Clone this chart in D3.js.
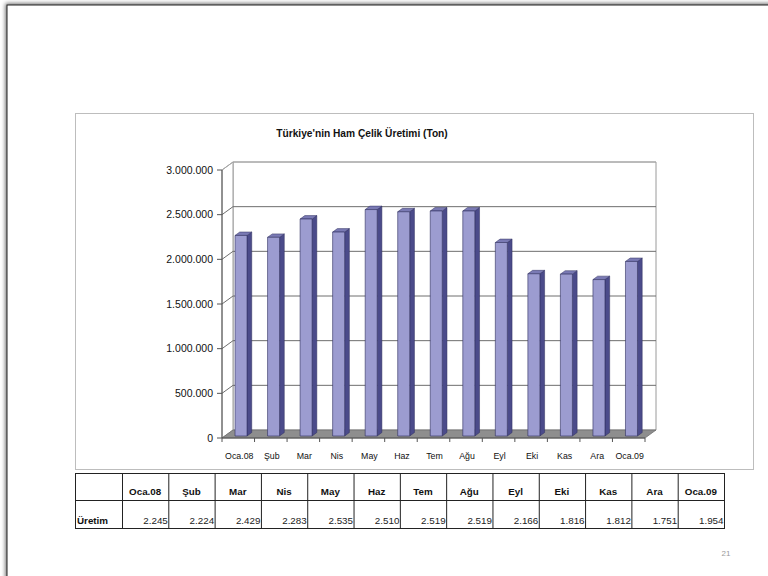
<!DOCTYPE html>
<html>
<head>
<meta charset="utf-8">
<script src="https://cdn.jsdelivr.net/npm/d3@7"></script>
<style>
  html, body { margin: 0; padding: 0; background: #ffffff; }
  svg { display: block; font-family: "Liberation Sans", Arial, sans-serif; }
</style>
</head>
<body>
<svg id="chart" width="768" height="576"></svg>
<script>
// ---- data ----
const chartTitle = "Türkiye'nin Ham Çelik Üretimi (Ton)";
const categories = ["Oca.08", "Şub", "Mar", "Nis", "May", "Haz", "Tem", "Ağu", "Eyl", "Eki", "Kas", "Ara", "Oca.09"];
const production = [2245, 2224, 2429, 2283, 2535, 2510, 2519, 2519, 2166, 1816, 1812, 1751, 1954]; // thousand tons
const yTicks = [0, 500000, 1000000, 1500000, 2000000, 2500000, 3000000];
const rowLabel = "Üretim";
const pageNumber = "21";

// ---- setup ----
const svg = d3.select("#chart");
const tr = d3.formatLocale({ decimal: ",", thousands: ".", grouping: [3], currency: ["", " TL"] });
const fmt = tr.format(",d");

const defs = svg.append("defs");
const f = defs.append("filter").attr("id", "sh").attr("x", "-5%").attr("y", "-5%").attr("width", "110%").attr("height", "110%");
f.append("feGaussianBlur").attr("in", "SourceAlpha").attr("stdDeviation", 2).attr("result", "b");
f.append("feOffset").attr("in", "b").attr("dx", -1).attr("dy", -1).attr("result", "o");
f.append("feComponentTransfer").attr("in", "o").attr("result", "o2")
  .append("feFuncA").attr("type", "linear").attr("slope", 0.6);
const fm = f.append("feMerge");
fm.append("feMergeNode").attr("in", "o2");
fm.append("feMergeNode").attr("in", "SourceGraphic");

// slide
svg.append("rect").attr("x", 7).attr("y", 5).attr("width", 800).attr("height", 620)
  .attr("fill", "#fff").attr("stroke", "#222").attr("stroke-width", 1).attr("filter", "url(#sh)");

// chart box
svg.append("rect").attr("x", 75.5).attr("y", 113.5).attr("width", 678).attr("height", 356)
  .attr("fill", "#fff").attr("stroke", "#bdbdbd").attr("stroke-width", 1);

// title
svg.append("text").attr("x", 362).attr("y", 137).attr("text-anchor", "middle")
  .attr("font-size", 10.2).attr("font-weight", "bold").attr("fill", "#111").text(chartTitle);

// ---- 3D plot geometry ----
const x = d3.scaleBand().domain(categories).range([222, 645]).padding(0);
const y = d3.scaleLinear().domain([0, 3000000]).range([438, 170]);
const DX = 11, DY = 8;
const P = (px, v, z) => [px + z * DX, y(v) - z * DY];
const poly = pts => "M" + pts.map(p => p.join(",")).join("L") + "Z";

const g = svg.append("g");

// back wall
g.append("path").attr("d", poly([P(222, 0, 1), P(645, 0, 1), P(645, 3000000, 1), P(222, 3000000, 1)]))
  .attr("fill", "#fff").attr("stroke", "#9a9a9a").attr("stroke-width", 1);
// left wall
g.append("path").attr("d", poly([P(222, 0, 0), P(222, 0, 1), P(222, 3000000, 1), P(222, 3000000, 0)]))
  .attr("fill", "#fff").attr("stroke", "#9a9a9a").attr("stroke-width", 1);

// gridlines
yTicks.filter(t => t > 0).forEach(t => {
  const a = P(222, t, 0), b = P(222, t, 1), c = P(645, t, 1);
  g.append("path").attr("d", `M${a}L${b}L${c}`).attr("fill", "none")
    .attr("stroke", t === 3000000 ? "#a8a8a8" : "#6e6e6e").attr("stroke-width", 1);
});

// floor
g.append("path").attr("d", poly([P(222, 0, 0), P(645, 0, 0), P(645, 0, 1), P(222, 0, 1)]))
  .attr("fill", "#8e8e8e").attr("stroke", "#707070").attr("stroke-width", 0.8);

// bars
const BW = 12, Z0 = 0.25, Z1 = 0.68;
const bars = g.selectAll("g.bar").data(categories.map((c, i) => ({ c, v: production[i] * 1000 })))
  .enter().append("g").attr("class", "bar");
bars.each(function (d) {
  const cx = x(d.c) + x.bandwidth() / 2;
  const l = cx - BW / 2, r = cx + BW / 2;
  const s = d3.select(this);
  // side (right) face
  s.append("path").attr("d", poly([P(r, 0, Z0), P(r, 0, Z1), P(r, d.v, Z1), P(r, d.v, Z0)]))
    .attr("fill", "#4b4b8a").attr("stroke", "#2e2e5e").attr("stroke-width", 0.5);
  // top face
  s.append("path").attr("d", poly([P(l, d.v, Z0), P(r, d.v, Z0), P(r, d.v, Z1), P(l, d.v, Z1)]))
    .attr("fill", "#7a7ab4").attr("stroke", "#2e2e5e").attr("stroke-width", 0.5);
  // front face
  s.append("path").attr("d", poly([P(l, 0, Z0), P(r, 0, Z0), P(r, d.v, Z0), P(l, d.v, Z0)]))
    .attr("fill", "#9c9cd0").attr("stroke", "#2e2e5e").attr("stroke-width", 0.6);
});

// front floor edge / x axis
g.append("line").attr("x1", 222).attr("x2", 645).attr("y1", y(0)).attr("y2", y(0))
  .attr("stroke", "#555").attr("stroke-width", 1);
// x ticks
const xb = categories.map(c => x(c)).concat([645]);
g.selectAll("line.xt").data(xb).enter().append("line")
  .attr("x1", d => d).attr("x2", d => d).attr("y1", y(0)).attr("y2", y(0) + 4)
  .attr("stroke", "#555");
// x labels
g.selectAll("text.xl").data(categories).enter().append("text")
  .attr("x", d => x(d) + x.bandwidth() / 2 + 1).attr("y", 459)
  .attr("text-anchor", "middle").attr("font-size", 8.8).attr("fill", "#111").text(d => d);

// y axis (front)
g.append("line").attr("x1", 222).attr("x2", 222).attr("y1", y(0)).attr("y2", y(3000000))
  .attr("stroke", "#555").attr("stroke-width", 1);
g.selectAll("line.yt").data(yTicks).enter().append("line")
  .attr("x1", 217).attr("x2", 222).attr("y1", d => y(d)).attr("y2", d => y(d))
  .attr("stroke", "#555");
g.selectAll("text.yl").data(yTicks).enter().append("text")
  .attr("x", 213).attr("y", d => y(d) + 3.8).attr("text-anchor", "end")
  .attr("font-size", 10.5).attr("fill", "#111").text(d => fmt(d));

// ---- data table ----
const tx0 = 75, tc0 = 122, tcw = (724 - 122) / 13;
const ty0 = 473, ty1 = 500, ty2 = 528;
const cx = d3.scaleBand().domain(categories).range([tc0, 724]);
const t = svg.append("g").attr("stroke", "#222").attr("stroke-width", 1);
[ty0, ty1, ty2].forEach(yy => t.append("line").attr("x1", tx0).attr("x2", 724).attr("y1", yy + 0.5).attr("y2", yy + 0.5));
[tx0].concat(categories.map(c => cx(c))).concat([724]).forEach(xx =>
  t.append("line").attr("x1", xx + 0.5).attr("x2", xx + 0.5).attr("y1", ty0).attr("y2", ty2 + 1));

svg.selectAll("text.th").data(categories).enter().append("text")
  .attr("x", d => cx(d) + cx.bandwidth() / 2).attr("y", 495)
  .attr("text-anchor", "middle").attr("font-size", 9.8).attr("font-weight", "bold").attr("fill", "#111").text(d => d);
svg.append("text").attr("x", 77).attr("y", 524).attr("font-size", 9.8).attr("font-weight", "bold")
  .attr("fill", "#111").text(rowLabel);
svg.selectAll("text.tv").data(categories.map((c, i) => ({ c, v: production[i] }))).enter().append("text")
  .attr("x", d => cx(d.c) + cx.bandwidth() - 0.5).attr("y", 524)
  .attr("text-anchor", "end").attr("font-size", 9.8).attr("fill", "#222").text(d => fmt(d.v));

// page number
svg.append("text").attr("x", 726).attr("y", 556).attr("text-anchor", "middle")
  .attr("font-size", 8).attr("fill", "#9a9a9a").text(pageNumber);
</script>
</body>
</html>
